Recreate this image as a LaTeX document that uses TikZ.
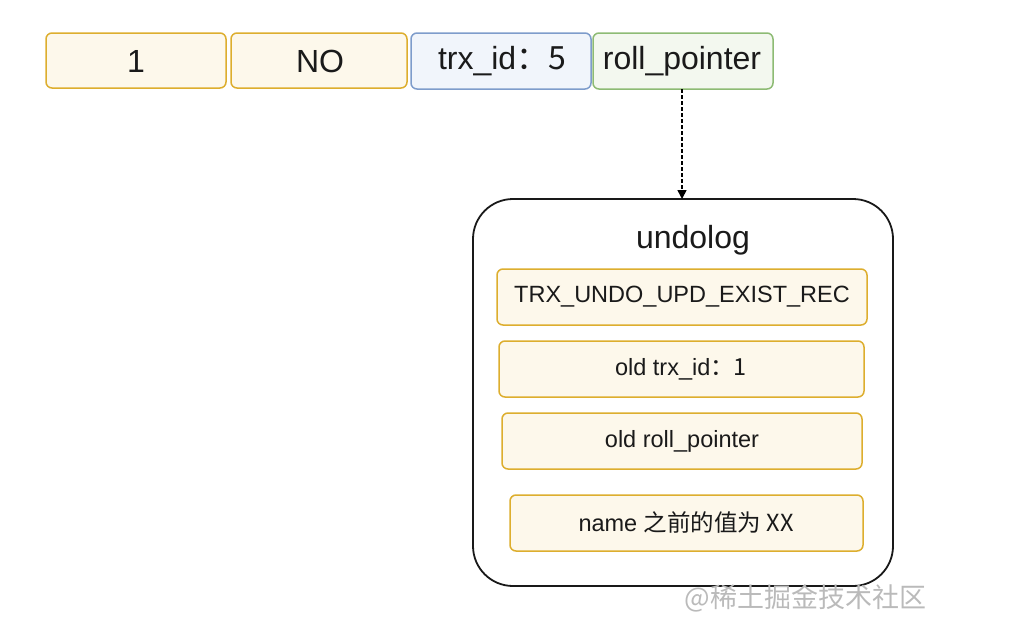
\documentclass[tikz,border=0pt]{standalone}
\usepackage{fontspec}
\setmainfont{Liberation Sans}
\newfontfamily\cjk{Noto Sans CJK SC}
\usetikzlibrary{arrows.meta}
\definecolor{ostroke}{HTML}{DDAE2E}
\definecolor{ofill}{HTML}{FDF8EB}
\definecolor{bstroke}{HTML}{7E9CCB}
\definecolor{bfill}{HTML}{F1F5FB}
\definecolor{gstroke}{HTML}{8DBB74}
\definecolor{gfill}{HTML}{F3F8EF}
\definecolor{txt}{HTML}{1A1A1A}
\tikzset{
  cell/.style={rounded corners=6pt, line width=1.5pt, inner sep=0pt, text=txt},
  ocell/.style={cell, draw=ostroke, fill=ofill},
  bcell/.style={cell, draw=bstroke, fill=bfill},
  gcell/.style={cell, draw=gstroke, fill=gfill},
  bigbox/.style={draw=black!90, line width=1.8pt, rounded corners=40pt, fill=white},
  big/.style={text=txt, font=\fontsize{32}{36}\selectfont},
  small/.style={text=txt, font=\fontsize{23.5}{27}\selectfont},
  conn/.style={line width=1.6pt, dash pattern=on 4pt off 2pt, -{Triangle[length=9pt,width=9pt]}},
}
\begin{document}
\begin{tikzpicture}[x=1pt,y=-1pt]
\useasboundingbox (0,0) rectangle (1016,637);
% top row
\path[ocell] (46,33) rectangle (226,88);
\node[big] (c1) at (136,61) {1};
\path[ocell] (231,33) rectangle (407,88);
\node[big] (c2) at (320,61) {NO};
\path[bcell] (411,33) rectangle (591,89);
\node[big] (c3) at (502,61) {trx\_id\cjk{：}5};
\path[gcell] (593,33) rectangle (773,89);
\node[big] (c4) at (682,61) {roll\_pointer};
\coordinate (rp) at (682,89);
% big box
\path[bigbox] (473,199) rectangle (893,586);
\coordinate (ul) at (682,199);
\node[big] (title) at (693,240) {undolog};
% inner boxes
\path[ocell] (497,269) rectangle (867,325);
\node[small] (u1) at (682,297) {TRX\_UNDO\_UPD\_EXIST\_REC};
\path[ocell] (499,341) rectangle (864,397);
\node[small] (u2) at (681,369) {old trx\_id\cjk{：}1};
\path[ocell] (502,413) rectangle (862,469);
\node[small] (u3) at (682,441) {old roll\_pointer};
\path[ocell] (510,495) rectangle (863,551);
\node[small] (u4) at (686,523) {name \cjk{之前的值为} XX};
% connector
\draw[conn] (rp) -- (ul);
% watermark
\node[text=black!27, font=\cjk\fontsize{27}{30}\selectfont, anchor=west] (wm) at (681,598) {@稀土掘金技术社区};
\end{tikzpicture}
\end{document}
